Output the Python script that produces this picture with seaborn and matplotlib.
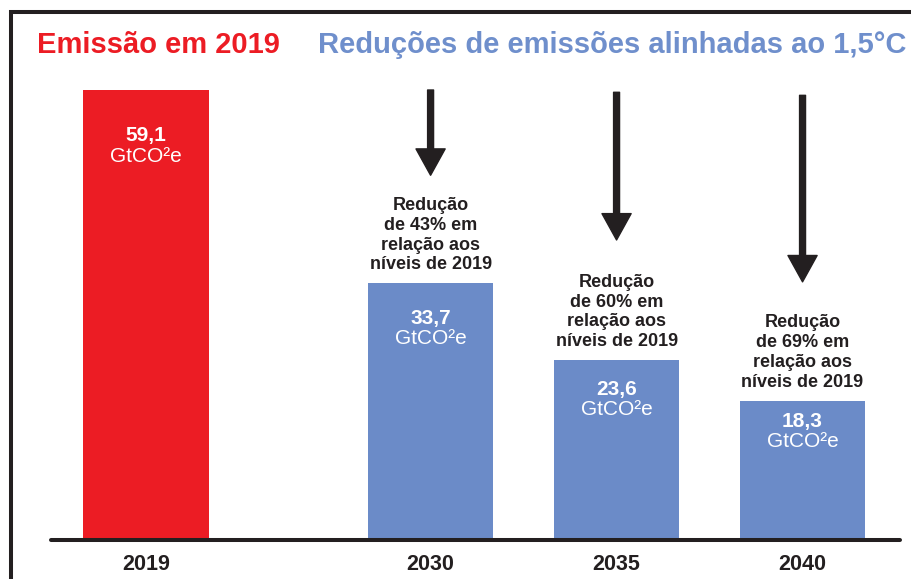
import matplotlib
matplotlib.use("Agg")
import matplotlib.pyplot as plt
import seaborn as sns
import pandas as pd
from matplotlib.patches import Rectangle

# --- data ---
years = ["2019", "2030", "2035", "2040"]
emissions = [59.1, 33.7, 23.6, 18.3]
value_labels = ["59,1", "33,7", "23,6", "18,3"]
reduction_notes = [
    None,
    "Redução\nde 43% em\nrelação aos\nníveis de 2019",
    "Redução\nde 60% em\nrelação aos\nníveis de 2019",
    "Redução\nde 69% em\nrelação aos\nníveis de 2019",
]
unit_label = "GtCO²e"
title_left = "Emissão em 2019"
title_right = "Reduções de emissões alinhadas ao 1,5°C"

# --- layout / style ---
slot_pos = [0.0, 1.53, 2.53, 3.53]
RED = "#ec1c24"
BLUE = "#6b8bc8"
TITLE_BLUE = "#6f8fcc"
DARK = "#231f20"
bar_colors = [RED, BLUE, BLUE, BLUE]
value_drop_px = [46, 35, 29, 21]          # label centre below bar top
arrow_top = [59.1, 58.8, 58.4]
arrow_gap = [14.2, 15.8, 15.6]            # arrow tip above bar top

sns.set_theme(style="white")
plt.rcParams["font.family"] = ["Liberation Sans", "DejaVu Sans"]

W, H, DPI = 912, 579, 100
fig = plt.figure(figsize=(W / DPI, H / DPI), dpi=DPI)
fig.patch.set_facecolor("white")

px_per_unit = 450 / 59.1
ax_left, ax_right, ax_base, ax_top = 51, 900, 540, 14
ax = fig.add_axes([ax_left / W, (H - ax_base) / H,
                   (ax_right - ax_left) / W, (ax_base - ax_top) / H])
ax.set_facecolor("none")

df = pd.DataFrame({"pos": slot_pos, "value": emissions, "year": years})
sns.barplot(data=df, x="pos", y="value", hue="year", palette=bar_colors,
            native_scale=True, width=0.675, dodge=False, legend=False,
            saturation=1, ax=ax, linewidth=0)

ax.set_xlim(-0.511, 4.054)
ax.set_ylim(0, (ax_base - ax_top) / px_per_unit)
for s in ax.spines.values():
    s.set_visible(False)
ax.axhline(0, color=DARK, lw=2.9, zorder=5, clip_on=False)
ax.set_yticks([])
ax.set_ylabel("")
ax.set_xlabel("")
ax.set_xticks(slot_pos)
ax.set_xticklabels(years, fontsize=15.5, fontweight="bold", color=DARK,
                   family=["Liberation Sans Narrow", "Liberation Sans"])
ax.tick_params(axis="x", length=0, pad=10)

pt_per_px = 72 / DPI
for i, (x, v) in enumerate(zip(slot_pos, emissions)):
    d = value_drop_px[i] * pt_per_px
    ax.annotate(value_labels[i], (x, v), xytext=(0, -d), textcoords="offset points",
                ha="center", va="center", color="white", fontsize=15,
                fontweight="bold")
    ax.annotate(unit_label, (x, v), xytext=(0, -d - 20 * pt_per_px),
                textcoords="offset points", ha="center", va="center",
                color="white", fontsize=15)
    if reduction_notes[i]:
        ax.annotate(reduction_notes[i], (x, v), xytext=(0, 10 * pt_per_px),
                    textcoords="offset points", ha="center", va="bottom",
                    multialignment="center", color=DARK, fontsize=13,
                    fontweight="bold", linespacing=1.22)

for j, i in enumerate(range(1, 4)):
    x = slot_pos[i]
    tip = emissions[i] + arrow_gap[j]
    ax.annotate("", xy=(x, tip), xytext=(x, arrow_top[j]),
                arrowprops=dict(facecolor=DARK, edgecolor=DARK, width=4.3,
                                headwidth=21, headlength=19, shrink=0),
                annotation_clip=False)

fig.text(37 / W, (H - 53) / H, title_left, color=RED, fontsize=21,
         fontweight="bold", ha="left", va="baseline")
fig.text(318 / W, (H - 53) / H, title_right, color=TITLE_BLUE, fontsize=21,
         fontweight="bold", ha="left", va="baseline")

# frame around the graphic
fig.patches.append(Rectangle((11 / W, -0.1), 1.2, (H - 12) / H + 0.1,
                             transform=fig.transFigure, fill=False,
                             edgecolor=DARK, lw=2.9))

fig.savefig("out.png", dpi=DPI, facecolor="white")
